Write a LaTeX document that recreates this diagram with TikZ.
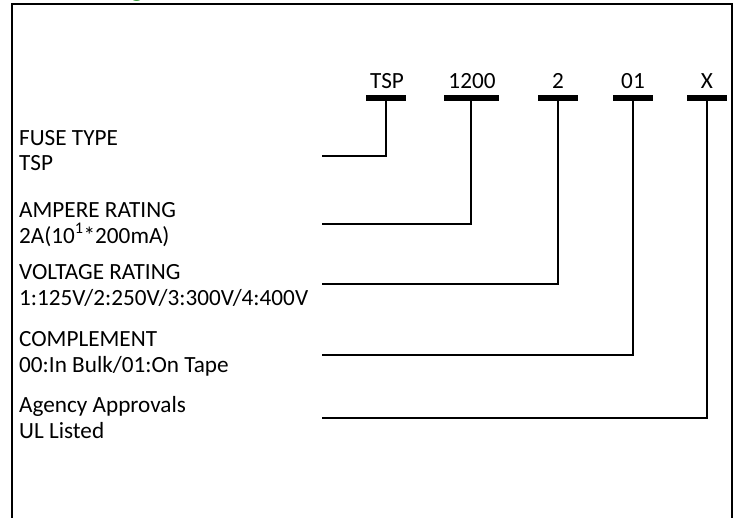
\documentclass[tikz,border=0pt]{standalone}
\usepackage{fontspec}
\setmainfont{Carlito}
\definecolor{headgreen}{RGB}{0,128,0}
\begin{document}
\begin{tikzpicture}[x=1pt,y=-1pt,
  lbl/.style={anchor=base west,inner sep=0pt,font=\fontsize{23.2}{27}\selectfont},
  code/.style={anchor=base,inner sep=0pt,font=\fontsize{23.2}{27}\selectfont},
  bar/.style={fill=black,minimum height=5.5pt,inner sep=0pt},
  conn/.style={line width=2pt},
  frame/.style={line width=2pt}]
\useasboundingbox (0,0) rectangle (739,517);
\clip (0,0) rectangle (739,517);
% cut-off green heading
\node[anchor=base,inner sep=0pt,text=headgreen,font=\fontsize{28}{32}\selectfont\bfseries] (head) at (137,-4) {g};
% frame
\draw[frame] (12,530) -- (12,4) -- (732,4) -- (732,530);
% code parts
\node[code] (tTSP) at (387,88) {TSP};
\node[code] (t1200) at (472,88) {1200};
\node[code] (t2) at (558,88) {2};
\node[code] (t01) at (633,88) {01};
\node[code] (tX) at (707,88) {X};
\node[bar,minimum width=40pt] (bTSP) at (386,98) {};
\node[bar,minimum width=55pt] (b1200) at (471,98) {};
\node[bar,minimum width=40pt] (b2) at (558,98) {};
\node[bar,minimum width=40pt] (b01) at (633,98) {};
\node[bar,minimum width=40pt] (bX) at (707,98) {};
% labels
\node[lbl] (l1a) at (19,145) {FUSE TYPE};
\node[lbl] (l1b) at (19,170) {TSP};
\node[lbl] (l2a) at (19,217) {AMPERE RATING};
\node[lbl] (l2b) at (19,243) {2A(10\textsuperscript{1}*200mA)};
\node[lbl] (l3a) at (19,279) {VOLTAGE RATING};
\node[lbl] (l3b) at (19,305) {1:125V/2:250V/3:300V/4:400V};
\node[lbl] (l4a) at (19,346) {COMPLEMENT};
\node[lbl] (l4b) at (19,372) {00:In Bulk/01:On Tape};
\node[lbl] (l5a) at (19,412) {Agency Approvals};
\node[lbl] (l5b) at (19,438) {UL Listed};
% connector ends
\coordinate (c1) at (322,156);
\coordinate (c2) at (322,224);
\coordinate (c3) at (322,284);
\coordinate (c4) at (322,355);
\coordinate (c5) at (322,418);
\draw[conn] (bTSP.south) |- (c1);
\draw[conn] (b1200.south) |- (c2);
\draw[conn] (b2.south) |- (c3);
\draw[conn] (b01.south) |- (c4);
\draw[conn] (bX.south) |- (c5);
\end{tikzpicture}
\end{document}
